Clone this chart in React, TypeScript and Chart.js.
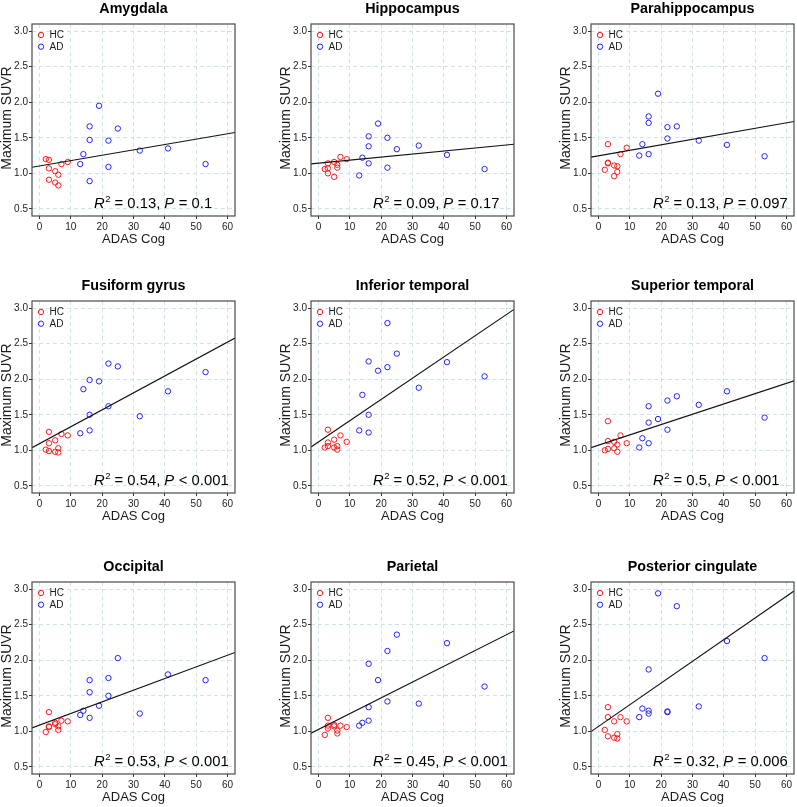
import React, { useEffect, useRef } from "react";
import { Chart, registerables } from "chart.js";

Chart.register(...registerables);

const FONT = "Arial, 'Liberation Sans', Helvetica, sans-serif";

const X_MIN = -2.4;
const X_MAX = 62.4;
const Y_MIN = 0.4;
const Y_MAX = 3.1;
const X_TICKS = [0, 10, 20, 30, 40, 50, 60];
const Y_TICKS = [0.5, 1.0, 1.5, 2.0, 2.5, 3.0];

const HC_COLOR = "#ff1a1a";
const AD_COLOR = "#2323ff";

// ADAS Cog scores (shared by all panels)
const HC_ADAS = [2, 3, 3, 3, 5, 5, 6, 6, 7, 9];
const AD_ADAS = [13, 14, 16, 16, 16, 19, 22, 22, 25, 32, 41, 53];

// Maximum SUVR per region
const AMYGDALA_HC = [1.2, 1.19, 1.07, 0.91, 1.03, 0.87, 0.98, 0.83, 1.13, 1.16];
const AMYGDALA_AD = [1.13, 1.27, 1.66, 1.47, 0.89, 1.95, 1.46, 1.09, 1.63, 1.32, 1.35, 1.13];
const HIPPOCAMPUS_HC = [1.06, 1.14, 1.07, 1.0, 1.16, 0.95, 1.12, 1.08, 1.23, 1.2];
const HIPPOCAMPUS_AD = [0.97, 1.22, 1.52, 1.38, 1.14, 1.7, 1.5, 1.08, 1.34, 1.39, 1.26, 1.06];
const PARAHIPPO_HC = [1.05, 1.41, 1.15, 1.14, 1.11, 0.96, 1.1, 1.02, 1.27, 1.36];
const PARAHIPPO_AD = [1.25, 1.41, 1.8, 1.71, 1.27, 2.12, 1.65, 1.49, 1.66, 1.46, 1.4, 1.24];
const FUSIFORM_HC = [1.01, 1.26, 1.1, 0.99, 1.14, 0.98, 1.03, 0.97, 1.23, 1.21];
const FUSIFORM_AD = [1.24, 1.86, 1.99, 1.5, 1.28, 1.97, 2.22, 1.62, 2.18, 1.48, 1.83, 2.1];
const INF_TEMPORAL_HC = [1.04, 1.29, 1.11, 1.06, 1.15, 1.04, 1.06, 1.01, 1.21, 1.12];
const INF_TEMPORAL_AD = [1.28, 1.78, 2.25, 1.5, 1.25, 2.12, 2.79, 2.17, 2.36, 1.88, 2.24, 2.04];
const SUP_TEMPORAL_HC = [1.0, 1.41, 1.13, 1.02, 1.12, 1.03, 1.08, 0.98, 1.21, 1.1];
const SUP_TEMPORAL_AD = [1.04, 1.17, 1.62, 1.39, 1.1, 1.44, 1.7, 1.29, 1.76, 1.64, 1.83, 1.46];
const OCCIPITAL_HC = [0.99, 1.27, 1.07, 1.06, 1.12, 1.1, 1.07, 1.02, 1.15, 1.14];
const OCCIPITAL_AD = [1.23, 1.29, 1.72, 1.55, 1.19, 1.36, 1.75, 1.5, 2.03, 1.25, 1.8, 1.72];
const PARIETAL_HC = [0.95, 1.19, 1.08, 1.04, 1.09, 1.07, 1.01, 0.97, 1.08, 1.06];
const PARIETAL_AD = [1.08, 1.12, 1.95, 1.34, 1.15, 1.72, 2.13, 1.42, 2.36, 1.39, 2.24, 1.63];
const POST_CING_HC = [1.02, 1.34, 1.2, 0.93, 1.14, 0.91, 0.96, 0.9, 1.2, 1.14];
const POST_CING_AD = [1.2, 1.32, 1.87, 1.29, 1.25, 2.94, 1.28, 1.27, 2.76, 1.35, 2.27, 2.03];

const REGIONS = [
  "Amygdala",
  "Hippocampus",
  "Parahippocampus",
  "Fusiform gyrus",
  "Inferior temporal",
  "Superior temporal",
  "Occipital",
  "Parietal",
  "Posterior cingulate",
];
const HC_SUVR = [AMYGDALA_HC, HIPPOCAMPUS_HC, PARAHIPPO_HC, FUSIFORM_HC, INF_TEMPORAL_HC, SUP_TEMPORAL_HC, OCCIPITAL_HC, PARIETAL_HC, POST_CING_HC];
const AD_SUVR = [AMYGDALA_AD, HIPPOCAMPUS_AD, PARAHIPPO_AD, FUSIFORM_AD, INF_TEMPORAL_AD, SUP_TEMPORAL_AD, OCCIPITAL_AD, PARIETAL_AD, POST_CING_AD];
const FIT_INTERCEPT = [1.104, 1.143, 1.246, 1.094, 1.119, 1.072, 1.088, 1.027, 1.07];
const FIT_SLOPE = [0.00753, 0.00427, 0.00775, 0.0238, 0.02985, 0.0145, 0.01636, 0.0222, 0.0305];
const R2_TEXT = ["0.13", "0.09", "0.13", "0.54", "0.52", "0.5", "0.53", "0.45", "0.32"];
const P_TEXT = ["= 0.1", "= 0.17", "= 0.097", "< 0.001", "< 0.001", "< 0.001", "< 0.001", "< 0.001", "= 0.006"];

const CANVAS_W = 240;
const CANVAS_H = 255;
const COL_LEFT = [0, 279, 559];
const ROW_TOP = [0, 277, 558];

const decorPlugin = {
  id: "decor",
  afterDraw(chart: any) {
    const idx: number = chart.options.plugins.decor.idx;
    const { ctx, chartArea: a } = chart;
    const cx = (a.left + a.right) / 2;
    ctx.save();
    // frame
    ctx.strokeStyle = "#4a4a4a";
    ctx.lineWidth = 1.2;
    ctx.setLineDash([]);
    ctx.strokeRect(a.left, a.top, a.right - a.left, a.bottom - a.top);

    // title
    ctx.fillStyle = "#000";
    ctx.textAlign = "center";
    ctx.textBaseline = "middle";
    ctx.font = `bold 14.3px ${FONT}`;
    ctx.fillText(REGIONS[idx], cx, a.top - 15);

    // axis titles
    ctx.fillStyle = "#1a1a1a";
    ctx.font = `13px ${FONT}`;
    ctx.fillText("ADAS Cog", cx, a.bottom + 23.5);
    ctx.save();
    ctx.translate(a.left - 25, (a.top + a.bottom) / 2 - 2);
    ctx.rotate(-Math.PI / 2);
    ctx.font = `14px ${FONT}`;
    ctx.fillText("Maximum SUVR", 0, 0);
    ctx.restore();

    // legend
    const items = [
      { label: "HC", color: HC_COLOR, dy: 11 },
      { label: "AD", color: AD_COLOR, dy: 22.7 },
    ];
    ctx.textAlign = "left";
    ctx.font = `10px ${FONT}`;
    for (const it of items) {
      ctx.beginPath();
      ctx.strokeStyle = it.color;
      ctx.lineWidth = 1;
      ctx.arc(a.left + 9, a.top + it.dy, 2.7, 0, Math.PI * 2);
      ctx.stroke();
      ctx.fillStyle = "#1a1a1a";
      ctx.fillText(it.label, a.left + 17.5, a.top + it.dy + 0.5);
    }

    // annotation
    ctx.textBaseline = "alphabetic";
    ctx.fillStyle = "#000";
    let x = a.left + 62;
    const base = a.bottom - 8.3;
    const big = 14.8;
    const parts: { t: string; italic?: boolean; sup?: boolean }[] = [
      { t: "R", italic: true },
      { t: "2", sup: true },
      { t: ` = ${R2_TEXT[idx]}, ` },
      { t: "P", italic: true },
      { t: ` ${P_TEXT[idx]}` },
    ];
    for (const p of parts) {
      ctx.font = p.sup ? `9.5px ${FONT}` : `${p.italic ? "italic " : ""}${big}px ${FONT}`;
      ctx.fillText(p.t, x, p.sup ? base - 6 : base);
      x += ctx.measureText(p.t).width + (p.italic ? 0.5 : 0);
    }
    ctx.restore();
  },
};

function Panel({ idx }: { idx: number }) {
  const ref = useRef<HTMLCanvasElement | null>(null);
  useEffect(() => {
    if (!ref.current) return;
    const a = FIT_INTERCEPT[idx];
    const b = FIT_SLOPE[idx];
    const hc = HC_ADAS.map((v, i) => ({ x: v, y: HC_SUVR[idx][i] }));
    const ad = AD_ADAS.map((v, i) => ({ x: v, y: AD_SUVR[idx][i] }));
    const fit = [
      { x: X_MIN, y: a + b * X_MIN },
      { x: X_MAX, y: a + b * X_MAX },
    ];
    const tickFont = { size: 10, family: FONT };
    const chart = new Chart(ref.current, {
      type: "scatter",
      data: {
        datasets: [
          {
            label: "fit",
            data: fit,
            showLine: true,
            borderColor: "#111",
            borderWidth: 1.1,
            pointRadius: 0,
            order: 0,
          },
          {
            label: "HC",
            data: hc,
            borderColor: HC_COLOR,
            backgroundColor: "rgba(0,0,0,0)",
            pointRadius: 2.7,
            pointBorderWidth: 1,
            order: 1,
          },
          {
            label: "AD",
            data: ad,
            borderColor: AD_COLOR,
            backgroundColor: "rgba(0,0,0,0)",
            pointRadius: 2.7,
            pointBorderWidth: 1,
            order: 1,
          },
        ],
      },
      options: {
        responsive: false,
        animation: false,
        events: [],
        layout: { padding: { left: 0, right: 3.6, top: 24, bottom: 0 } },
        plugins: {
          legend: { display: false },
          tooltip: { enabled: false },
          title: { display: false },
          decor: { idx },
        } as any,
        scales: {
          x: {
            type: "linear",
            min: X_MIN,
            max: X_MAX,
            afterBuildTicks: (s: any) => {
              s.ticks = X_TICKS.map((v) => ({ value: v }));
            },
            afterFit: (s: any) => {
              s.height = CANVAS_H - 216;
            },
            ticks: {
              font: tickFont,
              color: "#222",
              padding: 2,
              maxRotation: 0,
              autoSkip: false,
              callback: (v: any) => String(v),
            },
            grid: {
              color: "#cfe4e8",
              lineWidth: 1,
              tickColor: "#333",
              tickLength: 3,
              tickWidth: 1,
              tickBorderDash: [],
            },
            border: { display: false, dash: [4, 3] },
          },
          y: {
            type: "linear",
            min: Y_MIN,
            max: Y_MAX,
            afterBuildTicks: (s: any) => {
              s.ticks = Y_TICKS.map((v) => ({ value: v }));
            },
            afterFit: (s: any) => {
              s.width = 32;
            },
            ticks: {
              font: tickFont,
              color: "#222",
              padding: 1,
              autoSkip: false,
              callback: (v: any) => Number(v).toFixed(1),
            },
            grid: {
              color: "#cfe4e8",
              lineWidth: 1,
              tickColor: "#333",
              tickLength: 3,
              tickWidth: 1,
              tickBorderDash: [],
            },
            border: { display: false, dash: [4, 3] },
          },
        },
      } as any,
      plugins: [decorPlugin],
    });
    return () => chart.destroy();
  }, [idx]);

  const col = idx % 3;
  const row = Math.floor(idx / 3);
  return (
    <canvas
      ref={ref}
      width={CANVAS_W}
      height={CANVAS_H}
      style={{
        position: "absolute",
        left: COL_LEFT[col],
        top: ROW_TOP[row],
        width: CANVAS_W,
        height: CANVAS_H,
      }}
    />
  );
}

export default function App() {
  return (
    <div
      style={{
        position: "fixed",
        left: 0,
        top: 0,
        width: 797,
        height: 807,
        overflow: "hidden",
        background: "#fff",
      }}
    >
      {REGIONS.map((_, i) => (
        <Panel key={i} idx={i} />
      ))}
    </div>
  );
}
